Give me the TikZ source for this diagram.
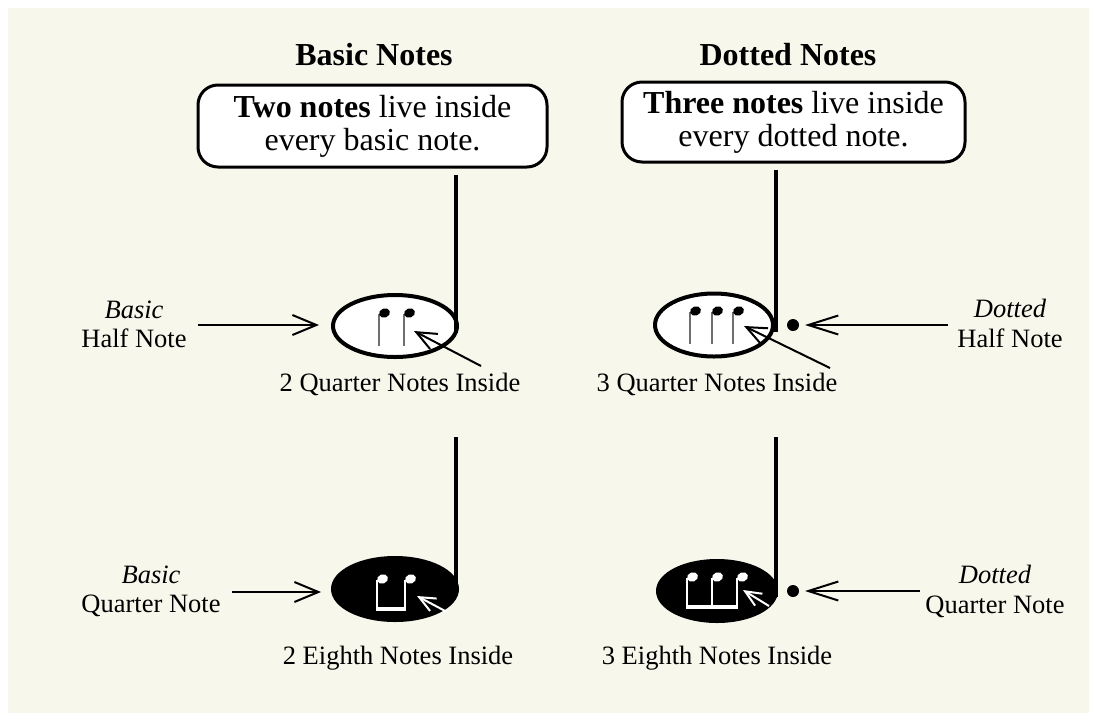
\documentclass[tikz,border=0pt]{standalone}
\usepackage{fontspec}
\setmainfont{Liberation Serif}
\usetikzlibrary{arrows.meta,shapes.geometric}
\definecolor{paper}{HTML}{F8F7EC}
\definecolor{innergray}{HTML}{6E6E6E}
\begin{document}
\begin{tikzpicture}[x=1pt,y=-1pt,
  head/.style={font=\fontsize{32}{34}\selectfont\bfseries, inner sep=0pt, anchor=base},
  bubble/.style={draw=black, line width=3pt, rounded corners=20pt, fill=white,
    font=\fontsize{32}{33}\selectfont, align=center, inner sep=0pt},
  lbl/.style={font=\fontsize{26.5}{29}\selectfont, inner sep=0pt, anchor=base},
  ilbl/.style={lbl, font=\fontsize{26.5}{29}\selectfont\itshape},
  oval/.style={ellipse, draw=black, line width=4pt, inner sep=0pt},
  stemline/.style={line width=4.5pt, line cap=butt},
  arrL/.style={line width=2pt, -{Straight Barb[length=24pt,width=20pt,line width=2pt]}},
  arrR/.style={line width=2pt, -{Straight Barb[length=30pt,width=19pt,line width=2pt]}},
  arrIn/.style={line width=2pt, -{Straight Barb[length=20pt,width=17pt,line width=2pt]}},
  arrW/.style={white, line width=2pt, -{Straight Barb[length=16pt,width=14pt,line width=2pt]}},
  qstem/.style={innergray, line width=1.4pt},
  wstem/.style={white, line width=2pt},
]
\useasboundingbox (0,0) rectangle (1097,721);
\fill[white] (0,0) rectangle (1097,721);
\fill[paper] (8,8) rectangle (1089,713);

% headings
\node[head] (h1) at (374,65) {Basic Notes};
\node[head] (h2) at (788,65) {Dotted Notes};

% boxes
\node[bubble, minimum width=349pt, minimum height=82pt] (b1) at (372.5,126)
  {\textbf{Two notes} live inside\\every basic note.};
\node[bubble, minimum width=343pt, minimum height=80pt] (b2) at (793.5,122)
  {\textbf{Three notes} live inside\\every dotted note.};

% ----- top left: basic half note
\node[oval, fill=white, minimum width=124pt, minimum height=62pt] (e1) at (395,326) {};
\coordinate (s1t) at (456,175);
\coordinate (s1b) at (456,333);
\draw[stemline] (s1t) -- (s1b);
\draw[qstem] (379,314) -- (379,346);
\draw[qstem] (404,314) -- (404,346);
\fill[rotate around={20:(384.5,313)}] (384.5,313) ellipse (5.6pt and 4.6pt);
\fill[rotate around={20:(409.5,313)}] (409.5,313) ellipse (5.6pt and 4.6pt);
\node[ilbl] (l1a) at (134,318) {Basic};
\node[lbl] (l1b) at (134,347) {Half Note};
\coordinate (a1s) at (198,325);
\coordinate (a1e) at (319,325);
\draw[arrL] (a1s) -- (a1e);
\node[lbl] (q1) at (400,391) {2 Quarter Notes Inside};
\coordinate (i1s) at (481,366);
\coordinate (i1e) at (414,331);
\draw[arrIn] (i1s) -- (i1e);

% ----- top right: dotted half note
\node[oval, fill=white, minimum width=118pt, minimum height=63pt] (e2) at (714,325) {};
\coordinate (s2t) at (776,170);
\coordinate (s2b) at (776,332);
\draw[stemline] (s2t) -- (s2b);
\draw[qstem] (690,312) -- (690,344);
\draw[qstem] (712,312) -- (712,344);
\draw[qstem] (733,312) -- (733,344);
\fill[rotate around={20:(695.5,311)}] (695.5,311) ellipse (5.6pt and 4.6pt);
\fill[rotate around={20:(717.5,311)}] (717.5,311) ellipse (5.6pt and 4.6pt);
\fill[rotate around={20:(738.5,311)}] (738.5,311) ellipse (5.6pt and 4.6pt);
\fill (793,325) circle (6pt);
\node[ilbl] (l2a) at (1010,317) {Dotted};
\node[lbl] (l2b) at (1010,347) {Half Note};
\coordinate (a2s) at (948,325);
\coordinate (a2e) at (805,325);
\draw[arrR] (a2s) -- (a2e);
\node[lbl] (q2) at (717,391) {3 Quarter Notes Inside};
\coordinate (i2s) at (830,368);
\coordinate (i2e) at (744,326);
\draw[arrIn] (i2s) -- (i2e);

% ----- bottom left: basic quarter note
\node[oval, fill=black, minimum width=124pt, minimum height=62pt] (e3) at (395,589) {};
\coordinate (s3t) at (456,437);
\coordinate (s3b) at (456,596);
\draw[stemline] (s3t) -- (s3b);
\draw[wstem] (377,580) -- (377,609);
\draw[wstem] (405,580) -- (405,609);
\draw[white, line width=4pt] (376,609) -- (406,609);
\fill[white, rotate around={20:(382.5,579)}] (382.5,579) ellipse (5.6pt and 4.6pt);
\fill[white, rotate around={20:(410.5,579)}] (410.5,579) ellipse (5.6pt and 4.6pt);
\coordinate (i3s) at (447,612);
\coordinate (i3e) at (417,596);
\draw[arrW] (i3s) -- (i3e);
\node[ilbl] (l3a) at (151,583) {Basic};
\node[lbl] (l3b) at (151,612) {Quarter Note};
\coordinate (a3s) at (232,592);
\coordinate (a3e) at (321,592);
\draw[arrL] (a3s) -- (a3e);
\node[lbl] (q3) at (398,664) {2 Eighth Notes Inside};

% ----- bottom right: dotted quarter note
\node[oval, fill=black, minimum width=118pt, minimum height=60pt] (e4) at (717,591) {};
\coordinate (s4t) at (776,437);
\coordinate (s4b) at (776,597);
\draw[stemline] (s4t) -- (s4b);
\draw[wstem] (687,578) -- (687,607);
\draw[wstem] (712,578) -- (712,607);
\draw[wstem] (737,578) -- (737,607);
\draw[white, line width=4pt] (686,607) -- (738,607);
\fill[white, rotate around={20:(692.5,577)}] (692.5,577) ellipse (5.6pt and 4.6pt);
\fill[white, rotate around={20:(717.5,577)}] (717.5,577) ellipse (5.6pt and 4.6pt);
\fill[white, rotate around={20:(742.5,577)}] (742.5,577) ellipse (5.6pt and 4.6pt);
\coordinate (i4s) at (769,606);
\coordinate (i4e) at (743,590);
\draw[arrW] (i4s) -- (i4e);
\fill (793,591) circle (6pt);
\node[ilbl] (l4a) at (995,583) {Dotted};
\node[lbl] (l4b) at (995,613) {Quarter Note};
\coordinate (a4s) at (920,591);
\coordinate (a4e) at (805,591);
\draw[arrR] (a4s) -- (a4e);
\node[lbl] (q4) at (717,664) {3 Eighth Notes Inside};
\end{tikzpicture}
\end{document}
